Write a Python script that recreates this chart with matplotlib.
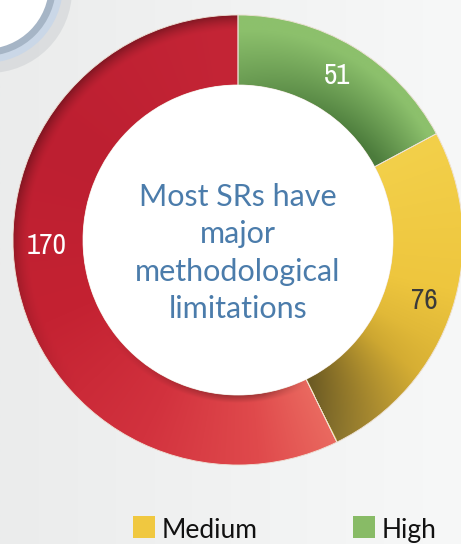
import os
import numpy as np
import matplotlib
matplotlib.use("Agg")
import matplotlib.pyplot as plt
from matplotlib.patches import Circle, Rectangle
from matplotlib.colors import to_rgb
from matplotlib import font_manager

# data
categories = ["High", "Medium", "Low"]
values = [51, 76, 170]
label_colors = ["white", "#3a3a3a", "white"]
legend_names = ["Medium", "High"]
legend_colors = ["#f0c840", "#88bb66"]
center_text = "Most SRs have\nmajor\nmethodological\nlimitations"

W, H = 461, 544
fig = plt.figure(figsize=(W / 100, H / 100), dpi=100)
ax = fig.add_axes([0, 0, 1, 1])

cx, cy = 238, H - 240
R_out, R_in = 225, 155


# a narrow upright font for the numbers, if one is installed
def narrow_font():
    skip = ("Bold", "Italic", "Oblique", "It.", "Light", "Thin", "Black",
            "Medium", "Extra", "Semi")
    picks = {}
    for f in font_manager.fontManager.ttflist:
        base = os.path.basename(f.fname)
        if any(k in base for k in skip):
            continue
        if "Narrow" in base:
            picks.setdefault(0, f.fname)
        elif "Condensed" in base:
            picks.setdefault(1, f.fname)
    if picks:
        return font_manager.FontProperties(fname=picks[min(picks)])
    return font_manager.FontProperties(family="Liberation Sans")


num_font = narrow_font()
num_font.set_size(21)

# background gradient
bg = np.linspace(0, 1, 200)
c0, c1 = np.array(to_rgb("#ebecec")), np.array(to_rgb("#f7f8f8"))
bg_img = (c0 + (c1 - c0) * bg[:, None])[None, :, :]
ax.imshow(bg_img, extent=(0, W, 0, H), aspect="auto", zorder=0, origin="lower")

# bubble in top-left corner
bx, by = -15, H + 15
ax.add_patch(Circle((bx + 4, by - 5), 83, color="#9098a0", alpha=0.18, lw=0, zorder=1))
ax.add_patch(Circle((bx, by), 78, color="#cad7e7", lw=0, zorder=2))
ax.add_patch(Circle((bx, by), 71, color="#a6b5c6", lw=0, zorder=2))
ax.add_patch(Circle((bx, by), 64, color="white", lw=0, zorder=3))

# donut
wedges, _ = ax.pie(values, startangle=90, counterclock=False, radius=R_out,
                   center=(cx, cy), colors=["#7db45e", "#eec43c", "#c62434"],
                   wedgeprops=dict(width=R_out - R_in, edgecolor="#f0e6dc",
                                   linewidth=0.6),
                   frame=True)
for w in wedges:
    w.set_zorder(4)


def hexs(lst):
    return np.array([to_rgb(c) for c in lst])


def ramp(t, stops, cols):
    out = np.zeros(t.shape + (3,))
    for k in range(3):
        out[..., k] = np.interp(t, stops, cols[:, k])
    return out


n = 460
xs = np.linspace(cx - R_out, cx + R_out, n)
ys = np.linspace(cy - R_out, cy + R_out, n)
X, Y = np.meshgrid(xs, ys)
rr = np.hypot(X - cx, Y - cy)
th = np.degrees(np.arctan2(Y - cy, X - cx))
s = np.clip((rr - R_in) / (R_out - R_in), 0, 1)

for i, w in enumerate(wedges):
    t1, t2 = w.theta1, w.theta2
    a = (th - t1) % 360 + t1
    t = np.clip((t2 - a) / (t2 - t1), 0, 1)
    if i == 0:
        dark = hexs(["#4c7c3c"])[0]
        light = hexs(["#8cc06c"])[0]
        f = np.clip(0.2 + 0.95 * s - 0.3 * t * (1 - s) + 0.25 * (1 - t) * (1 - s), 0, 1)
        img = dark + (light - dark) * f[..., None]
    elif i == 1:
        base = ramp(t, [0, 0.45, 0.7, 0.88, 1.0],
                    hexs(["#f3d04a", "#eec63e", "#d8b034", "#a88a30", "#8a742e"]))
        shade = 1 - 0.25 * np.clip((t - 0.6) / 0.4, 0, 1) * (1 - s)
        img = base * shade[..., None]
    else:
        base = ramp(t, [0, 0.1, 0.25, 0.45, 0.7, 1.0],
                    hexs(["#ea6a60", "#e04a4c", "#d2323e", "#c42232", "#bd1f31", "#c42536"]))
        outer = np.clip((s - 0.78) / 0.22, 0, 1) ** 1.5
        wt = np.clip((t - 0.35) / 0.3, 0, 1)
        inner = np.clip((0.12 - s) / 0.12, 0, 1) * np.clip((0.4 - t) / 0.25, 0, 1) \
            * np.clip(t / 0.08, 0, 1)
        shade = 1 - 0.32 * outer * wt - 0.3 * inner
        img = base * shade[..., None]
    im = ax.imshow(img, extent=(xs[0], xs[-1], ys[0], ys[-1]), origin="lower",
                   zorder=5, interpolation="bilinear")
    im.set_clip_path(w)

# thin seams between the segments
seams, _ = ax.pie(values, startangle=90, counterclock=False, radius=R_out,
                  center=(cx, cy), colors=["none"] * len(values),
                  wedgeprops=dict(width=R_out - R_in, edgecolor="#efe4da",
                                  linewidth=0.6),
                  frame=True)
for w in seams:
    w.set_zorder(6)

ax.add_patch(Circle((cx, cy), R_in, color="white", lw=0, zorder=7))

# value labels
total = sum(values)
label_r = [192, 196, 192]
angles = []
start = 90.0
for v in values:
    sweep = v / total * 360
    angles.append(start - sweep / 2)
    start -= sweep
angles[2] = 181.5
for v, ang, r, col in zip(values, angles, label_r, label_colors):
    ax.text(cx + r * np.cos(np.radians(ang)), cy + r * np.sin(np.radians(ang)),
            str(v), ha="center", va="center", color=col,
            fontproperties=num_font, zorder=8)

ax.text(cx, cy - 13, center_text, ha="center", va="center", color="#4b7cab",
        fontsize=22, family="Lato", linespacing=1.4, zorder=8)

# legend
leg_x = [133, 353]
for name, col, lx in zip(legend_names, legend_colors, leg_x):
    ax.add_patch(Rectangle((lx, H - 538), 22, 22, color=col, lw=0, zorder=8))
    ax.text(lx + 29, H - 538, name, ha="left", va="baseline", fontsize=19,
            family="Lato", color="#111111", zorder=8)

ax.set_xlim(0, W)
ax.set_ylim(0, H)
ax.set_aspect("auto")
ax.axis("off")
fig.savefig("out.png", dpi=100)
